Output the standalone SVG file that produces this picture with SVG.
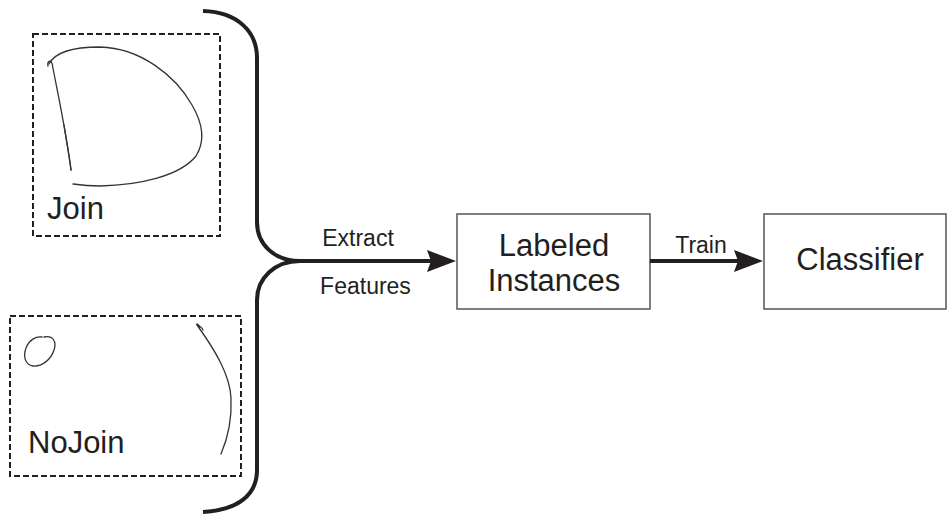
<svg xmlns="http://www.w3.org/2000/svg" width="948" height="514" viewBox="0 0 948 514">
  <style>
    .big { font-family: "Liberation Sans", Arial, sans-serif; font-size: 31px; fill: #231f20; }
    .small { font-family: "Liberation Sans", Arial, sans-serif; font-size: 23px; fill: #231f20; }
    .dashed { fill: none; stroke: #231f20; stroke-width: 2; stroke-dasharray: 6 3; }
    .box { fill: #fff; stroke: #555; stroke-width: 1.5; }
    .sketch { fill: none; stroke: #333; stroke-width: 1.3; stroke-linecap: round; stroke-linejoin: round; }
    .heavy { fill: none; stroke: #231f20; stroke-width: 4; }
    .head { fill: #231f20; }
  </style>

  <!-- sample sketch: Join -->
  <g id="join">
    <rect class="dashed" x="33" y="34" width="187" height="202"/>
    <path class="sketch" d="M48,66 C47,61 50,60 52,63 C57,90 66,130 71,170"/>
    <path class="sketch" stroke-width="2" d="M64,125 C67,145 70,160 71,170"/>
    <path class="sketch" d="M49,64 C55,52 75,47 100,47 C140,48 175,75 192,105 C202,122 206,140 196,156 C180,176 140,185 100,186 C88,186 80,185 73,184"/>
    <text class="big" x="47" y="219">Join</text>
  </g>

  <!-- sample sketch: NoJoin -->
  <g id="nojoin">
    <rect class="dashed" x="10" y="316" width="231" height="160"/>
    <path class="sketch" d="M44,337 C53,335 57,342 54,350 C51,360 41,367 33,366 C25,365 23,356 26,348 C29,340 36,336 42,337"/>
    <path class="sketch" d="M200,327 C198,324 196,323 197,325 C215,350 230,375 231,398 C232,420 227,440 221,454"/>
    <path class="sketch" d="M197,325 C200,326 202,327 203,330"/>
    <text class="big" x="28" y="453">NoJoin</text>
  </g>

  <!-- intermediate node -->
  <g id="labeled-instances">
    <rect class="box" x="457" y="214" width="193" height="95"/>
    <text class="big" x="554" y="256" text-anchor="middle">Labeled</text>
    <text class="big" x="554" y="291" text-anchor="middle">Instances</text>
  </g>

  <!-- output node -->
  <g id="classifier">
    <rect class="box" x="764" y="214" width="182" height="95"/>
    <text class="big" x="860" y="270" text-anchor="middle">Classifier</text>
  </g>

  <!-- connectors -->
  <g id="connectors">
    <path class="heavy" d="M203,11 C238,12 257,32 257,58 L257,222 C257,245 275,261 300,261 C275,261 257,278 257,300 L257,470 C257,495 238,510 203,512"/>
    <line class="heavy" x1="300" y1="261" x2="432" y2="261"/>
    <path class="head" d="M456,261 L427,250 L431,261 L427,272 Z"/>
    <text class="small" x="358" y="246" text-anchor="middle">Extract</text>
    <text class="small" x="365.5" y="294" text-anchor="middle">Features</text>

    <line class="heavy" x1="650" y1="261" x2="740" y2="261"/>
    <path class="head" d="M763,261 L734,250 L738,261 L734,272 Z"/>
    <text class="small" x="701" y="253" text-anchor="middle" font-size="22">Train</text>
  </g>
</svg>
